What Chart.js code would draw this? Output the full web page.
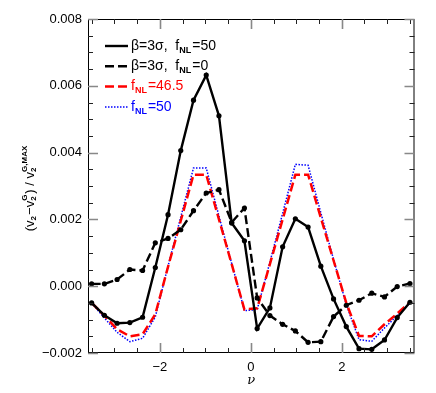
<!DOCTYPE html>
<html>
<head>
<meta charset="utf-8">
<script src="https://cdn.jsdelivr.net/npm/chart.js@4/dist/chart.umd.min.js"></script>
<style>
  html, body { margin: 0; padding: 0; background: #fff; }
</style>
</head>
<body>
<canvas id="chart" width="436" height="393"></canvas>
<script>
// valeurs de nu (abscisse)
const nu = [-3.50, -3.22, -2.94, -2.66, -2.38, -2.10, -1.82, -1.54, -1.26, -0.98, -0.70, -0.42, -0.14,
            0.14, 0.42, 0.70, 0.98, 1.26, 1.54, 1.82, 2.10, 2.38, 2.66, 2.94, 3.22, 3.50];

// beta=3 sigma, fNL=50 (trait plein)
const betaFnl50 = [-0.00050, -0.00087, -0.00111, -0.00109, -0.00093, 0.00056, 0.00214, 0.00406, 0.00557, 0.00632,
                   0.00510, 0.00189, 0.00136, -0.00127, -0.00065, 0.00118, 0.00202, 0.00177, 0.00060, -0.00038,
                   -0.00121, -0.00187, -0.00189, -0.00161, -0.00094, -0.00048];
// beta=3 sigma, fNL=0 (tirets noirs)
const betaFnl0 = [0.00007, 0.00007, 0.00020, 0.00050, 0.00047, 0.00130, 0.00143, 0.00169, 0.00226, 0.00279,
                  0.00289, 0.00191, 0.00234, -0.00035, -0.00088, -0.00114, -0.00134, -0.00168, -0.00166, -0.00091,
                  -0.00057, -0.00042, -0.00021, -0.00032, -0.00001, 0.00008];
// fNL=46.5 (tirets rouges)
const fnl465 = [-0.00050, -0.00088, -0.00129, -0.00150, -0.00144, -0.00084, 0.00058, 0.00196, 0.00334, 0.00334,
                0.00200, 0.00066, -0.00070, -0.00066, 0.00066, 0.00200, 0.00334, 0.00334, 0.00205, 0.00077,
                -0.00050, -0.00149, -0.00150, -0.00114, -0.00082, -0.00048];
// fNL=50 (pointillés bleus)
const fnl50 = [-0.00050, -0.00095, -0.00138, -0.00166, -0.00156, -0.00092, 0.00060, 0.00207, 0.00354, 0.00354,
               0.00210, 0.00068, -0.00073, -0.00070, 0.00072, 0.00218, 0.00365, 0.00362, 0.00220, 0.00080,
               -0.00055, -0.00160, -0.00165, -0.00125, -0.00088, -0.00050];

// graduations
const xTicks = [-2, 0, 2];
const yTicks = [-0.002, 0.000, 0.002, 0.004, 0.006, 0.008];

// textes de la légende (avec indices)
const legendItems = [
    { parts: [{ t: 'β=3σ,  f' }, { sub: 'NL' }, { t: '=50' }], color: '#000', dash: [], width: 2.4 },
    { parts: [{ t: 'β=3σ,  f' }, { sub: 'NL' }, { t: '=0' }], color: '#000', dash: [9, 4], width: 2.4 },
    { parts: [{ t: 'f' }, { sub: 'NL' }, { t: '=46.5' }], color: '#ff0000', dash: [9, 4], width: 2.5 },
    { parts: [{ t: 'f' }, { sub: 'NL' }, { t: '=50' }], color: '#0000ff', dash: [1.5, 1.5], width: 1.5 }
];
const yTitleParts = [{ t: '(v' }, { sub: '2' }, { t: '−v' }, { sub: '2', sup: 'G' }, { t: ') / v' }, { sub: '2', sup: 'G,MAX' }];

const FONT = '"Liberation Sans", Arial, Helvetica, sans-serif';

// mesure / dessin de texte avec indices et exposants
function richWidth(ctx, parts, size) {
    let w = 0;
    parts.forEach(p => {
        if (p.t !== undefined) {
            ctx.font = `${size}px ${FONT}`;
            w += ctx.measureText(p.t).width;
        } else {
            ctx.font = `bold ${Math.round(size * 0.62)}px ${FONT}`;
            const a = ctx.measureText(p.sub || '').width;
            const b = ctx.measureText(p.sup || '').width;
            w += Math.max(a, b) + 1;
        }
    });
    return w;
}

function drawRich(ctx, parts, x, y, size, color) {
    ctx.fillStyle = color;
    ctx.textBaseline = 'middle';
    ctx.textAlign = 'left';
    parts.forEach(p => {
        if (p.t !== undefined) {
            ctx.font = `${size}px ${FONT}`;
            ctx.fillText(p.t, x, y);
            x += ctx.measureText(p.t).width;
        } else {
            ctx.font = `bold ${Math.round(size * 0.62)}px ${FONT}`;
            let w = 0;
            if (p.sub) {
                ctx.fillText(p.sub, x, y + size * 0.3);
                w = ctx.measureText(p.sub).width;
            }
            if (p.sup) {
                ctx.fillText(p.sup, x, y - size * 0.42);
                w = Math.max(w, ctx.measureText(p.sup).width);
            }
            x += w + 1;
        }
    });
}

// cadre, graduations internes, légende et titres
const decorPlugin = {
    id: 'decor',
    afterDraw(chart) {
        const ctx = chart.ctx;
        const a = chart.chartArea;
        const xs = chart.scales.x;
        const ys = chart.scales.y;
        ctx.save();

        // cadre
        ctx.strokeStyle = '#000';
        ctx.lineWidth = 1;
        ctx.strokeRect(a.left + 0.5, a.top + 0.5, a.right - a.left - 1, a.bottom - a.top - 1);

        // graduations x (haut et bas)
        for (let v = -3.5; v <= 3.51; v += 0.5) {
            const px = Math.round(xs.getPixelForValue(v)) + 0.5;
            const major = xTicks.some(t => Math.abs(t - v) < 1e-6);
            const len = major ? 10 : 5;
            ctx.strokeStyle = major ? '#888' : '#222';
            ctx.lineWidth = major ? 1.6 : 1;
            ctx.beginPath();
            ctx.moveTo(px, a.bottom); ctx.lineTo(px, a.bottom - len);
            ctx.moveTo(px, a.top); ctx.lineTo(px, a.top + len);
            ctx.stroke();
        }
        // graduations y (gauche et droite)
        for (let k = 0; k <= 20; k++) {
            const v = -0.002 + k * 0.0005;
            const py = Math.round(ys.getPixelForValue(v)) + 0.5;
            const major = k % 4 === 0;
            const len = major ? 10 : 5;
            ctx.strokeStyle = major ? '#888' : '#222';
            ctx.lineWidth = major ? 1.6 : 1;
            ctx.beginPath();
            ctx.moveTo(a.left, py); ctx.lineTo(a.left + len, py);
            ctx.moveTo(a.right, py); ctx.lineTo(a.right - len, py);
            ctx.stroke();
        }

        // légende
        legendItems.forEach((it, i) => {
            const y = 46 + i * 20.3;
            ctx.strokeStyle = it.color;
            ctx.lineWidth = it.width;
            ctx.setLineDash(it.dash);
            ctx.beginPath();
            ctx.moveTo(105, y); ctx.lineTo(128, y);
            ctx.stroke();
            ctx.setLineDash([]);
            drawRich(ctx, it.parts, 131, y, 14, it.color);
        });

        // titre de l'axe y
        ctx.save();
        ctx.translate(30, 188);
        ctx.rotate(-Math.PI / 2);
        const w = richWidth(ctx, yTitleParts, 13);
        drawRich(ctx, yTitleParts, -w / 2, 0, 13, '#000');
        ctx.restore();

        // titre de l'axe x
        ctx.font = `italic 13px "DejaVu Serif", "Liberation Serif", serif`;
        ctx.fillStyle = '#000';
        ctx.textAlign = 'center';
        ctx.textBaseline = 'middle';
        ctx.fillText('ν', (a.left + a.right) / 2, 381);

        ctx.restore();
    }
};

function serie(vals) {
    return nu.map((x, i) => ({ x: x, y: vals[i] }));
}

const ctx = document.getElementById('chart').getContext('2d');
new Chart(ctx, {
    type: 'line',
    data: {
        datasets: [
            {
                label: 'β=3σ, fNL=50',
                data: serie(betaFnl50),
                borderColor: '#000',
                borderWidth: 2.4,
                pointRadius: 2.6,
                pointBackgroundColor: '#000',
                pointBorderWidth: 0
            },
            {
                label: 'β=3σ, fNL=0',
                data: serie(betaFnl0),
                borderColor: '#000',
                borderWidth: 2.4,
                borderDash: [9, 4],
                pointRadius: 2.6,
                pointBackgroundColor: '#000',
                pointBorderWidth: 0
            },
            {
                label: 'fNL=46.5',
                data: serie(fnl465),
                borderColor: '#ff0000',
                borderWidth: 2.5,
                borderDash: [9, 4],
                pointRadius: 0
            },
            {
                label: 'fNL=50',
                data: serie(fnl50),
                borderColor: '#0000ff',
                borderWidth: 1.5,
                borderDash: [1.5, 1.5],
                pointRadius: 0
            }
        ]
    },
    options: {
        responsive: false,
        animation: false,
        devicePixelRatio: 1,
        layout: { padding: { left: 0, right: 21.5, top: 19, bottom: 0 } },
        plugins: {
            legend: { display: false },
            tooltip: { enabled: false }
        },
        elements: { line: { tension: 0 } },
        scales: {
            x: {
                type: 'linear',
                min: -3.58,
                max: 3.6,
                afterBuildTicks: s => { s.ticks = xTicks.map(v => ({ value: v })); },
                afterFit: s => { s.height = 40; },
                grid: { display: false, drawTicks: false },
                border: { display: false },
                ticks: {
                    padding: 7,
                    color: '#000',
                    font: { family: FONT, size: 13 },
                    maxRotation: 0,
                    autoSkip: false,
                    callback: v => (v < 0 ? '−' + Math.abs(v) : String(v))
                }
            },
            y: {
                type: 'linear',
                min: -0.002,
                max: 0.008,
                afterBuildTicks: s => { s.ticks = yTicks.map(v => ({ value: v })); },
                afterFit: s => { s.width = 88; },
                grid: { display: false, drawTicks: false },
                border: { display: false },
                ticks: {
                    padding: 6,
                    color: '#000',
                    font: { family: FONT, size: 13 },
                    autoSkip: false,
                    callback: v => (v < 0 ? '−' + Math.abs(v).toFixed(3) : v.toFixed(3))
                }
            }
        }
    },
    plugins: [decorPlugin]
});
</script>
</body>
</html>
